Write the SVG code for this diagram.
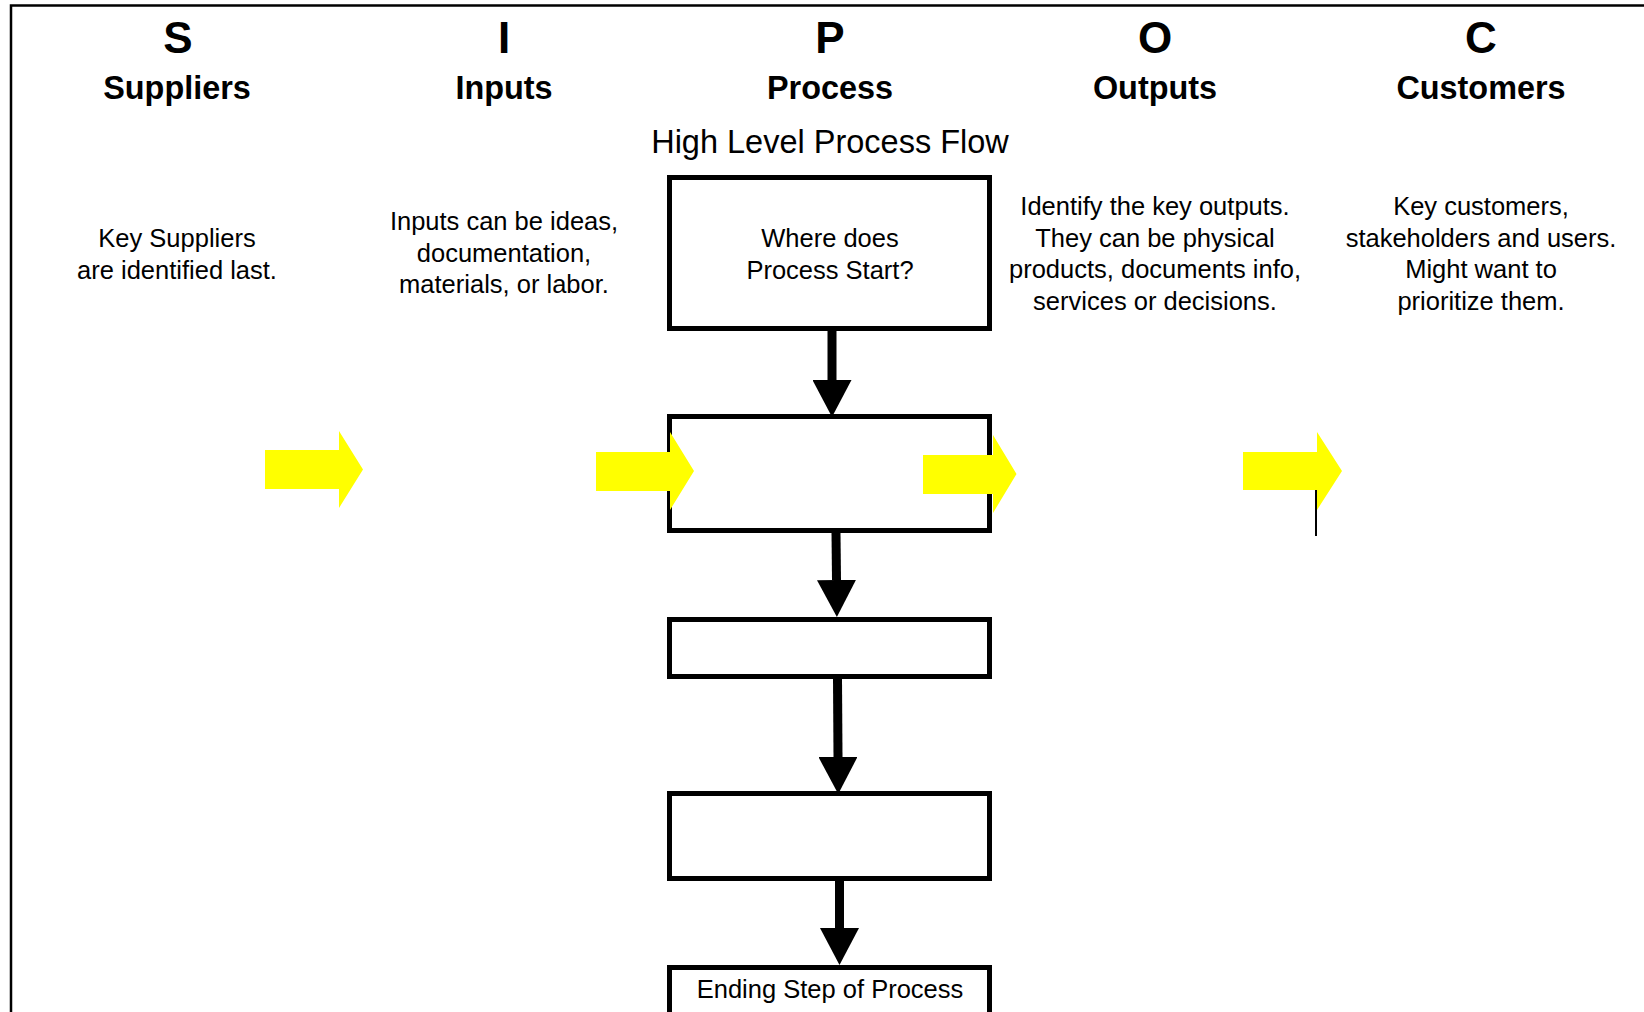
<svg xmlns="http://www.w3.org/2000/svg" width="1644" height="1012" viewBox="0 0 1644 1012">
  <style>
    .frame { fill: none; stroke: #000; stroke-width: 2.5; }
    .letter { font-family: "Liberation Sans", Arial, sans-serif; font-weight: bold; font-size: 44px; text-anchor: middle; fill: #000; }
    .head { font-family: "Liberation Sans", Arial, sans-serif; font-weight: bold; font-size: 32.4px; text-anchor: middle; fill: #000; }
    .sub { font-family: "Liberation Sans", Arial, sans-serif; font-size: 32.5px; text-anchor: middle; fill: #000; }
    .body { font-family: "Liberation Sans", Arial, sans-serif; font-size: 25.5px; text-anchor: middle; fill: #000; }
    .box { fill: #fff; stroke: #000; stroke-width: 5; }
    .flow { stroke: #000; stroke-width: 9; fill: none; }
    .yel { fill: #ffff00; stroke: none; }
    .thin { stroke: #000; stroke-width: 2; }
  </style>
  <defs>
    <marker id="ah" markerUnits="userSpaceOnUse" viewBox="0 0 37 39" markerWidth="37" markerHeight="39" refX="0" refY="19.5" orient="auto">
      <path d="M0,0 L37,19.5 L0,39 Z" fill="#000"/>
    </marker>
  </defs>
  <rect width="1644" height="1012" fill="#fff"/>
  <polyline class="frame" points="11,1012 11,5.5 1644,5.5"/>

  <g id="col-s">
    <text class="letter" x="178" y="53">S</text>
    <text class="head" x="177" y="99">Suppliers</text>
    <text class="body" x="177" y="247">Key Suppliers</text>
    <text class="body" x="177" y="278.5">are identified last.</text>
  </g>
  <g id="col-i">
    <text class="letter" x="504" y="53">I</text>
    <text class="head" x="504" y="99">Inputs</text>
    <text class="body" x="504" y="230">Inputs can be ideas,</text>
    <text class="body" x="504" y="261.5">documentation,</text>
    <text class="body" x="504" y="293">materials, or labor.</text>
  </g>
  <g id="col-p">
    <text class="letter" x="830" y="53">P</text>
    <text class="head" x="830" y="99">Process</text>
    <text class="sub" x="830" y="153">High Level Process Flow</text>
  </g>
  <g id="col-o">
    <text class="letter" x="1155" y="53">O</text>
    <text class="head" x="1155" y="99">Outputs</text>
    <text class="body" x="1155" y="215">Identify the key outputs.</text>
    <text class="body" x="1155" y="246.5">They can be physical</text>
    <text class="body" x="1155" y="278">products, documents info,</text>
    <text class="body" x="1155" y="309.5">services or decisions.</text>
  </g>
  <g id="col-c">
    <text class="letter" x="1481" y="53">C</text>
    <text class="head" x="1481" y="99">Customers</text>
    <text class="body" x="1481" y="215">Key customers,</text>
    <text class="body" x="1481" y="246.5">stakeholders and users.</text>
    <text class="body" x="1481" y="278">Might want to</text>
    <text class="body" x="1481" y="309.5">prioritize them.</text>
  </g>

  <g id="step1">
    <rect class="box" x="669.5" y="177.5" width="320" height="151"/>
    <text class="body" x="830" y="247">Where does</text>
    <text class="body" x="830" y="278.5">Process Start?</text>
  </g>
  <g id="step2">
    <rect class="box" x="669.5" y="416.5" width="320" height="114"/>
  </g>
  <g id="step3">
    <rect class="box" x="669.5" y="619.5" width="320" height="57"/>
  </g>
  <g id="step4">
    <rect class="box" x="669.5" y="793.5" width="320" height="85"/>
  </g>
  <g id="step5">
    <rect class="box" x="669.5" y="967.5" width="320" height="70"/>
    <text class="body" x="830" y="998">Ending Step of Process</text>
  </g>

  <g id="connectors">
    <line class="flow" x1="832" y1="331" x2="832" y2="380" marker-end="url(#ah)"/>
    <line class="flow" x1="836" y1="533" x2="836.5" y2="580" marker-end="url(#ah)"/>
    <line class="flow" x1="837.5" y1="679" x2="838" y2="757" marker-end="url(#ah)"/>
    <line class="flow" x1="839.5" y1="881" x2="839.5" y2="928" marker-end="url(#ah)"/>
    <polygon class="yel" points="265,450 339,450 339,431 363,469.5 339,508 339,489 265,489"/>
    <polygon class="yel" points="596,452 670,452 670,432 694,471 670,510 670,491 596,491"/>
    <polygon class="yel" points="923,455 993,455 993,435 1016.5,474 993,513 993,494 923,494"/>
    <polygon class="yel" points="1243,452 1317,452 1317,432 1342,471 1317,510 1317,490 1243,490"/>
    <line class="thin" x1="1316" y1="490" x2="1316" y2="536"/>
  </g>
</svg>
